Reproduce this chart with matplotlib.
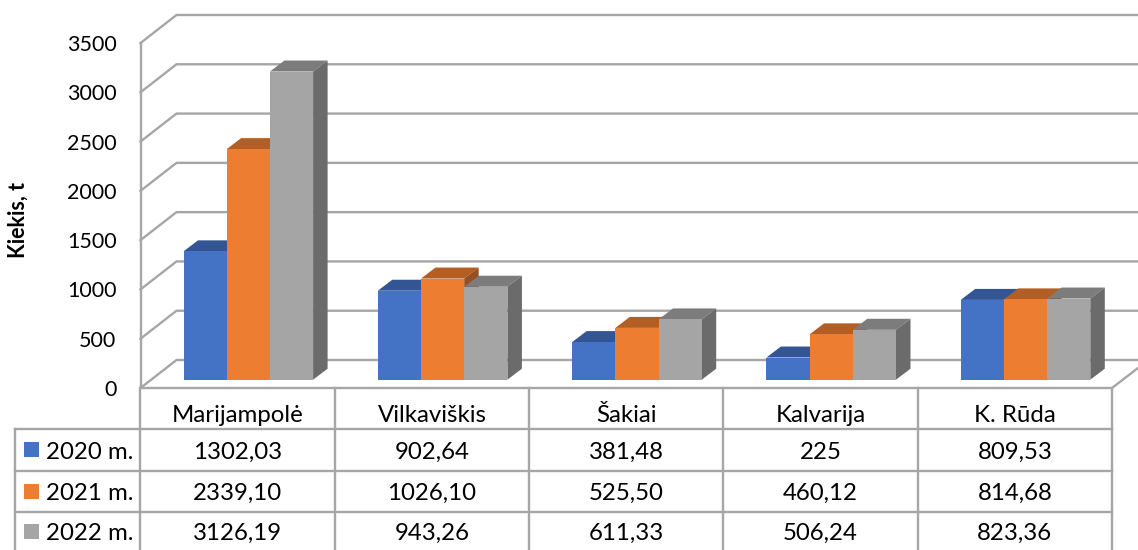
import matplotlib
matplotlib.use("Agg")
import matplotlib.pyplot as plt
from matplotlib.patches import Polygon, Rectangle

plt.rcParams['font.family'] = ['Lato', 'DejaVu Sans']

towns = ["Marijampolė", "Vilkaviškis", "Šakiai", "Kalvarija", "K. Rūda"]
years = ["2020 m.", "2021 m.", "2022 m."]
v2020 = [1302.03, 902.64, 381.48, 225, 809.53]
v2021 = [2339.10, 1026.10, 525.50, 460.12, 814.68]
v2022 = [3126.19, 943.26, 611.33, 506.24, 823.36]
labels2020 = ["1302,03", "902,64", "381,48", "225", "809,53"]
labels2021 = ["2339,10", "1026,10", "525,50", "460,12", "814,68"]
labels2022 = ["3126,19", "943,26", "611,33", "506,24", "823,36"]
yticks = [0, 500, 1000, 1500, 2000, 2500, 3000, 3500]

face = ["#4472C4", "#ED7D31", "#A5A5A5"]
top = ["#335593", "#B25E24", "#7C7C7C"]
side = ["#2C4A80", "#96501F", "#6B6B6B"]
grid = "#A6A6A6"

W, H = 1138, 550
fig = plt.figure(figsize=(W / 100, H / 100), dpi=100)

# front plane of the 3d box, everything else hangs off this
x0, x1, y0, y1 = 140.5, 1112, 388, 43
ax = fig.add_axes([x0 / W, 1 - y0 / H, (x1 - x0) / W, (y0 - y1) / H])
ax.set_xlim(0, 5)
ax.set_ylim(0, 3500)
ax.axis("off")

px_x = 5 / (x1 - x0)
px_y = 3500 / (y0 - y1)
wall_dx, wall_dy = 36 * px_x, 28 * px_y
bar_dx, bar_dy = 14.5 * px_x, 11 * px_y
floor_dy = 8.3 * px_y
bar_w = 43.2 * px_x
lw = 1.7

# walls
for t in yticks:
    ax.plot([5 + 0.2, wall_dx, 0], [t + wall_dy, t + wall_dy, t],
            color=grid, lw=lw, clip_on=False, zorder=1, solid_joinstyle="miter")
ax.plot([0, 0], [0, 3500], color=grid, lw=lw, clip_on=False, zorder=1)
ax.plot([0, 5, 5 + 26 * px_x], [0, 0, 20 * px_y], color=grid, lw=lw, clip_on=False, zorder=1)

# bars
series = [v2020, v2021, v2022]
for i in range(len(towns)):
    for s, vals in enumerate(series):
        left = i + 43 * px_x + s * bar_w
        v = vals[i]
        b = floor_dy
        h = v
        ax.add_patch(Polygon([(left, b + h), (left + bar_w, b + h),
                              (left + bar_w + bar_dx, b + h + bar_dy), (left + bar_dx, b + h + bar_dy)],
                             fc=top[s], ec="none", clip_on=False, zorder=2 + s))
        ax.add_patch(Polygon([(left + bar_w, b), (left + bar_w + bar_dx, b + bar_dy),
                              (left + bar_w + bar_dx, b + h + bar_dy), (left + bar_w, b + h)],
                             fc=side[s], ec="none", clip_on=False, zorder=2 + s))
        ax.add_patch(Rectangle((left, b), bar_w, h, fc=face[s], ec="none", clip_on=False, zorder=2 + s))

# y labels
for t in yticks:
    ax.text(-24 * px_x, t, str(t), ha="right", va="center_baseline", fontsize=15.5, color="black", clip_on=False)
ax.text(-122 * px_x, 1700, "Kiekis, t", rotation=90, ha="center", va="center",
        fontsize=15.5, fontweight="bold", clip_on=False)

# data table in pixels
tb = fig.add_axes([0, 0, 1, 1])
tb.set_xlim(0, W)
tb.set_ylim(H, 0)
tb.axis("off")
tb.patch.set_alpha(0)

cols = [140.5 + 194.3 * k for k in range(6)]
rows = [429, 470.5, 512, 550]
for c in cols:
    tb.plot([c, c], [388, 550], color=grid, lw=lw)
tb.plot([15.5, 15.5], [429, 550], color=grid, lw=lw)
for r in rows[:3]:
    tb.plot([15.5, cols[-1]], [r, r], color=grid, lw=lw)

for k, name in enumerate(towns):
    tb.text((cols[k] + cols[k + 1]) / 2, 415, name, ha="center", va="center", fontsize=17.3)

rowlabels = [labels2020, labels2021, labels2022]
for r, labs in enumerate(rowlabels):
    cy = (rows[r] + rows[r + 1]) / 2 + 0.5
    tb.add_patch(Rectangle((24, cy - 8), 15, 15, fc=face[r], ec="none"))
    tb.text(46, cy, years[r], ha="left", va="center_baseline", fontsize=17.3)
    for k, lab in enumerate(labs):
        tb.text((cols[k] + cols[k + 1]) / 2, cy, lab, ha="center", va="center_baseline", fontsize=17.3)

plt.savefig("out.png", dpi=100)
